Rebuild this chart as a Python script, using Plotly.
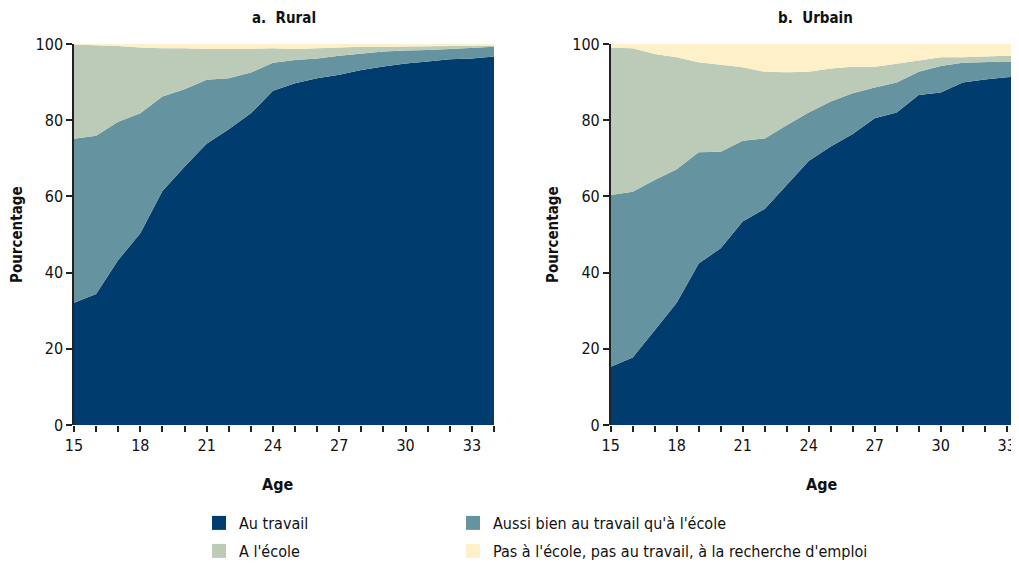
import plotly.graph_objects as go

ages = list(range(15, 35))

series_names = ["Au travail", "Aussi bien au travail qu'à l'école", "A l'école",
                "Pas à l'école, pas au travail, à la recherche d'emploi"]
colors = ["#003d6e", "#6593a0", "#bbcbb8", "#fef0c8"]

rural_travail = [32.1, 34.4, 43.3, 50.3, 61.4, 67.8, 73.8, 77.6, 81.8, 87.7, 89.7, 91.0, 91.9, 93.2, 94.1, 94.9, 95.4, 96.0, 96.2, 96.7]
rural_both = [43.0, 41.5, 36.3, 31.5, 24.8, 20.3, 16.8, 13.4, 10.7, 7.4, 6.1, 5.2, 5.0, 4.3, 3.9, 3.4, 3.0, 2.7, 2.8, 2.6]
rural_ecole = [24.8, 23.8, 19.9, 17.3, 12.7, 10.8, 8.1, 7.7, 6.2, 3.8, 2.9, 2.7, 2.2, 1.8, 1.3, 1.0, 1.0, 0.8, 0.6, 0.3]
rural_recherche = [0.1, 0.3, 0.5, 0.9, 1.1, 1.1, 1.3, 1.3, 1.3, 1.1, 1.3, 1.1, 0.9, 0.7, 0.7, 0.7, 0.6, 0.5, 0.4, 0.4]

urbain_travail = [15.3, 17.7, 24.9, 32.1, 42.4, 46.4, 53.4, 56.7, 63.0, 69.3, 73.1, 76.4, 80.5, 82.0, 86.6, 87.3, 89.9, 90.7, 91.3, 91.6]
urbain_both = [45.1, 43.5, 39.4, 35.0, 29.2, 25.3, 21.2, 18.5, 15.7, 12.7, 11.8, 10.7, 8.1, 7.9, 6.1, 6.9, 5.2, 4.6, 4.1, 3.8]
urbain_ecole = [38.6, 37.7, 33.1, 29.4, 23.6, 22.9, 19.3, 17.5, 13.9, 10.7, 8.7, 6.9, 5.4, 4.9, 2.9, 2.3, 1.4, 1.4, 1.5, 1.3]
urbain_recherche = [1.0, 1.1, 2.6, 3.5, 4.8, 5.4, 6.1, 7.3, 7.4, 7.3, 6.4, 6.0, 6.0, 5.2, 4.4, 3.5, 3.5, 3.3, 3.1, 3.3]

y_ticks = [0, 20, 40, 60, 80, 100]
x_ticks = [15, 18, 21, 24, 27, 30, 33]

FONT = "DejaVu Sans Condensed, Liberation Sans Narrow, sans-serif"
OFF = 8  # default page body margin
SCREEN_W, SCREEN_H = 1019, 564
W, H = SCREEN_W - OFF, SCREEN_H - OFF

fig = go.Figure()

rural = [rural_travail, rural_both, rural_ecole, rural_recherche]
urbain = [urbain_travail, urbain_both, urbain_ecole, urbain_recherche]

for i, name in enumerate(series_names):
    fig.add_trace(go.Scatter(
        x=ages, y=rural[i], name=name, stackgroup="r", mode="lines",
        line=dict(width=0, color=colors[i]), fillcolor=colors[i],
        xaxis="x", yaxis="y", showlegend=False, hoverinfo="skip"))
for i, name in enumerate(series_names):
    fig.add_trace(go.Scatter(
        x=ages, y=urbain[i], name=name, stackgroup="u", mode="lines",
        line=dict(width=0, color=colors[i]), fillcolor=colors[i],
        xaxis="x2", yaxis="y2", showlegend=False, hoverinfo="skip"))

# one legend per entry, laid out as a 2x2 grid
legend_ids = ["legend", "legend2", "legend3", "legend4"]
for i, name in enumerate(series_names):
    fig.add_trace(go.Scatter(
        x=[None], y=[None], name=name, mode="markers",
        marker=dict(symbol="square", size=14, color=colors[i]),
        legend=legend_ids[i], showlegend=True))

# screen pixel positions (reference)
top_px, bot_px = 44, 425
l1, r1 = 74, 494
l2 = 610.7

def px_x(p):
    return (p - OFF) / W

def px_y(p):
    return 1 - (p - OFF) / H

xcommon = dict(tickmode="array", tickvals=x_ticks, ticks="outside", ticklen=6,
               tickwidth=1.5, tickcolor="#222", showgrid=False, zeroline=False,
               showline=False, automargin=False, ticklabeloverflow="allow",
               tickfont=dict(family=FONT, size=16, color="#111"),
               minor=dict(dtick=1, tick0=15, ticks="outside", ticklen=6, tickwidth=1.5,
                          tickcolor="#222", showgrid=False))
ycommon = dict(range=[0, 100], tickvals=y_ticks, ticks="outside", ticklen=6,
               tickwidth=1.5, tickcolor="#222", showgrid=False, zeroline=False,
               showline=True, linecolor="#222", linewidth=1.5, automargin=False,
               tickfont=dict(family=FONT, size=16, color="#111"))

dom_y = [px_y(bot_px), px_y(top_px)]

legfont = dict(family=FONT, size=16, color="#111")
def leg(xp, yc):
    return dict(x=px_x(xp), y=px_y(yc), xanchor="left", yanchor="middle",
                orientation="v", font=legfont, itemwidth=30, bgcolor="rgba(0,0,0,0)")

fig.update_layout(
    width=W, height=H,
    margin=dict(l=0, r=0, t=0, b=0, autoexpand=False),
    paper_bgcolor="white", plot_bgcolor="white",
    xaxis=dict(domain=[px_x(l1), px_x(r1)], range=[15, 34], anchor="y", **xcommon),
    yaxis=dict(domain=dom_y, anchor="x", **ycommon),
    xaxis2=dict(domain=[px_x(l2), 1.0], range=[15, 15 + (SCREEN_W - l2) / 22.0], anchor="y2", **xcommon),
    yaxis2=dict(domain=dom_y, anchor="x2", **ycommon),
    font=dict(family=FONT, color="#111"),
    legend=leg(199, 523),
    legend2=leg(453, 523),
    legend3=leg(199, 551),
    legend4=leg(453, 551),
)

def note(text, xp, yp, size, angle=0):
    return dict(text=text, x=px_x(xp), y=px_y(yp), xref="paper", yref="paper",
                xanchor="center", yanchor="middle", showarrow=False, textangle=angle,
                font=dict(family=FONT, size=size, color="#111"))

ann = [
    note("<b>a.  Rural</b>", 284, 18, 15),
    note("<b>b.  Urbain</b>", 815, 18, 15),
    note("<b>Age</b>", 277, 484, 16),
    note("<b>Age</b>", 821, 484, 16),
    note("<b>Pourcentage</b>", 17, 235, 15, -90),
    note("<b>Pourcentage</b>", 553, 235, 15, -90),
]
fig.update_layout(annotations=ann)

fig.write_html("out.html")
